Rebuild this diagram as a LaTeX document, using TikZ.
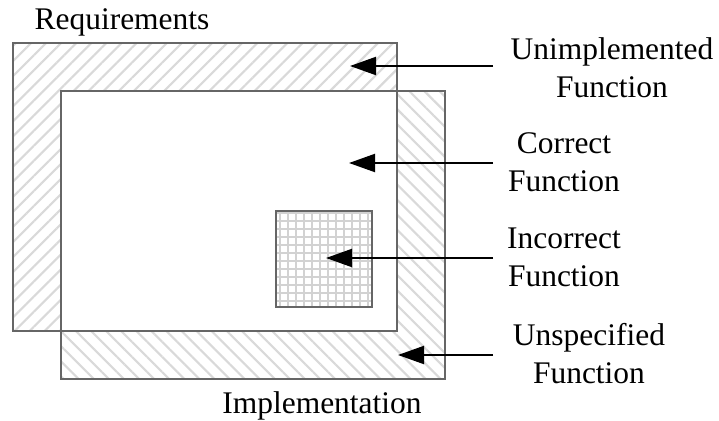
\documentclass[tikz,border=0pt]{standalone}
\usepackage{fontspec}
\setmainfont{Liberation Serif}
\usetikzlibrary{patterns.meta,arrows.meta}

\begin{document}
\begin{tikzpicture}[x=0.75pt, y=-0.75pt,
        boxline/.style={draw=black!60, line width=1.1pt},
        pointer/.style={-{Triangle[length=19.5pt,width=13.5pt]}, line width=1.5pt},
        lbl/.style={font=\fontsize{23.6}{28.5}\selectfont, align=center, inner sep=0pt}]
            \useasboundingbox (0,0) rectangle (719,421);

            \coordinate (A1) at (13, 43);
            \coordinate (B1) at (397, 43);
            \coordinate (C1) at (397, 331);
            \coordinate (D1) at (13, 331);

            \fill[pattern={Lines[angle=45,distance=8pt,line width=1.6pt]}, pattern color=gray!30] (A1) -- (B1) -- (C1) -- (D1) -- (A1);

            \coordinate (A2) at (61, 91);
            \coordinate (B2) at (445, 91);
            \coordinate (C2) at (445, 379);
            \coordinate (D2) at (61, 379);

            \fill[pattern={Lines[angle=-45,distance=8pt,line width=1.6pt]}, pattern color=gray!30] (A2) -- (B2) -- (C2) -- (D2) -- (A2);

            \fill[white] (A2) rectangle (C1);

            \draw[boxline] (A1) -- (B1) -- (C1) -- (D1) -- cycle;
            \draw[boxline] (A2) -- (B2) -- (C2) -- (D2) -- cycle;

            \coordinate (A3) at (276, 211);
            \coordinate (B3) at (372, 211);
            \coordinate (C3) at (372, 307);
            \coordinate (D3) at (276, 307);

            \fill[white] (A3) rectangle (C3);
            \fill[pattern={Hatch[distance=6pt,line width=1.1pt]}, pattern color=gray!35] (A3) -- (B3) -- (C3) -- (D3) -- cycle;
            \draw[boxline] (A3) -- (B3) -- (C3) -- (D3) -- cycle;

            \node[lbl, anchor=base] (req) at (122, 29) {Requirements};
            \node[lbl, anchor=base] (impl) at (322, 413) {Implementation};

            \node[lbl] (unimpl) at (612, 68) {Unimplemented\\Function};
            \node[lbl] (correct) at (564, 162) {Correct\\Function};
            \node[lbl] (incorrect) at (564, 257) {Incorrect\\Function};
            \node[lbl] (unspec) at (589, 354) {Unspecified\\Function};

            \coordinate (unimplTail) at (493, 66);
            \coordinate (unimplTip) at (350, 66);
            \coordinate (correctTail) at (493, 163);
            \coordinate (correctTip) at (349, 163);
            \coordinate (incorrectTail) at (493, 258);
            \coordinate (incorrectTip) at (326, 258);
            \coordinate (unspecTail) at (493, 355);
            \coordinate (unspecTip) at (398, 355);

            \draw[pointer] (unimplTail) -- (unimplTip);
            \draw[pointer] (correctTail) -- (correctTip);
            \draw[pointer] (incorrectTail) -- (incorrectTip);
            \draw[pointer] (unspecTail) -- (unspecTip);
        \end{tikzpicture}
\end{document}
